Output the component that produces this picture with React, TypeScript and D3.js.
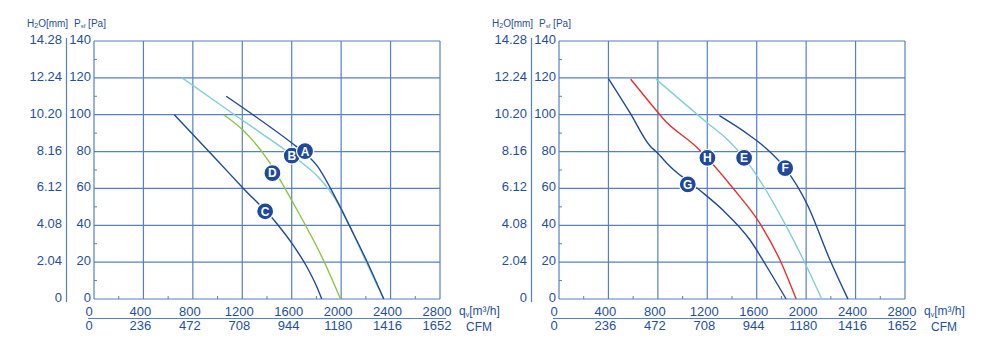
import React from "react";
import * as d3 from "d3";

// ---- data ----
const qTicks = [0, 400, 800, 1200, 1600, 2000, 2400, 2800];
const cfmLabels = ["0", "236", "472", "708", "944", "1180", "1416", "1652"];
const paTicks = [0, 20, 40, 60, 80, 100, 120, 140];
const mmLabels = ["0", "2.04", "4.08", "6.12", "8.16", "10.20", "12.24", "14.28"];

// left chart curves [q m3/h, Pa]
const curveB: [number, number][] = [[710,120.2],[1128,100.4],[1344,90.4],[1695,73.3],[1803,67],[1992,49.9],[2073,39],[2208,19.3],[2345,0]];
const curveD: [number, number][] = [[1050,100],[1209,91.4],[1412,75],[1600,53.5],[1857,21],[1995,0]];
const curveC: [number, number][] = [[650,100],[1000,75],[1209,60],[1479,41],[1614,29],[1722,17.5],[1803,6.6],[1843,0]];
const curveA: [number, number][] = [[1070,110],[1614,84],[1700,79.5],[1803,72.5],[1965,53.5],[2073,39],[2208,20.5],[2345,0]];

// right chart curves
const curveE: [number, number][] = [[785,119.3],[1196,95.8],[1358,86.8],[1498,76.6],[1600,67],[1843,39],[1992,19.3],[2127,0]];
const curveH: [number, number][] = [[580,119.3],[791,102],[845,97.7],[1115,82.3],[1412,59.8],[1627,40.9],[1789,21],[1919,0]];
const curveG: [number, number][] = [[400,119.6],[575,101],[737,83],[791,79.6],[899,71.9],[1142,58.9],[1330,48],[1546,32],[1682,17.5],[1838,0]];
const curveF: [number, number][] = [[1298,99.5],[1546,88.6],[1682,81.4],[1830,71],[2006,51.7],[2194,21],[2338,0]];

const leftLabels: { t: string; q: number; p: number }[] = [
  { t: "B", q: 1601, p: 77.8 },
  { t: "A", q: 1708, p: 80.2 },
  { t: "D", q: 1444, p: 68.3 },
  { t: "C", q: 1385, p: 47.6 },
];
const rightLabels: { t: string; q: number; p: number }[] = [
  { t: "G", q: 1042, p: 62.2 },
  { t: "H", q: 1201, p: 76.6 },
  { t: "E", q: 1498, p: 76.6 },
  { t: "F", q: 1830, p: 71 },
];

const TEXT = "#1f4fa2";
const GRID = "#5580c6";
const DARK = "#1f4a9c";
const CYAN = "#7fcfdc";
const GREEN = "#8cc63f";
const RED = "#e8302c";
const FONT = "'Liberation Sans', Arial, Helvetica, sans-serif";

type Curve = { data: [number, number][]; color: string };

function Chart({ ox, curves, labels }: { ox: number; curves: Curve[]; labels: { t: string; q: number; p: number }[] }) {
  const x = d3.scaleLinear().domain([0, 2800]).range([ox, ox + 346]);
  const y = d3.scaleLinear().domain([0, 140]).range([299, 41]);
  const line = d3
    .line<[number, number]>()
    .x((d) => x(d[0]))
    .y((d) => y(d[1]))
    .curve(d3.curveMonotoneX);
  const minorY = d3.range(10, 140, 20);
  const minorX = d3.range(200, 2800, 400);
  return (
    <g>
      {/* header */}
      <text x={ox - 67} y={27} fontSize={10} fill={TEXT} fontFamily={FONT}>
        H<tspan fontSize={7} dy={1}>2</tspan>
        <tspan dy={-1}>O[mm]</tspan>
      </text>
      <text x={ox - 20} y={27} fontSize={10} fill={TEXT} fontFamily={FONT}>
        P<tspan fontSize={6} dy={1}>sf</tspan>
        <tspan dy={-1}> [Pa]</tspan>
      </text>
      {/* separator */}
      <line x1={ox - 27.5} x2={ox - 27.5} y1={38} y2={302} stroke={GRID} strokeWidth={1.2} />
      {/* grid */}
      {paTicks.map((p) => (
        <line key={"h" + p} x1={x(0)} x2={x(2800)} y1={y(p)} y2={y(p)} stroke={GRID} strokeWidth={1.2} />
      ))}
      {qTicks.map((q) => (
        <line key={"v" + q} x1={x(q)} x2={x(q)} y1={y(0)} y2={y(140)} stroke={GRID} strokeWidth={1.2} />
      ))}
      {minorY.map((p) => (
        <line key={"my" + p} x1={x(0)} x2={x(0) + 3} y1={y(p)} y2={y(p)} stroke={GRID} strokeWidth={1} />
      ))}
      {minorX.map((q) => (
        <line key={"mx" + q} x1={x(q)} x2={x(q)} y1={y(0)} y2={y(0) - 3} stroke={GRID} strokeWidth={1} />
      ))}
      {/* y labels */}
      {paTicks.map((p, i) => (
        <g key={"yl" + p}>
          <text x={ox - 3} y={y(p) + 3} textAnchor="end" fontSize={13} fill={TEXT} fontFamily={FONT}>
            {p}
          </text>
          <text x={ox - 32} y={y(p) + 3} textAnchor="end" fontSize={13} fill={TEXT} fontFamily={FONT}>
            {mmLabels[i]}
          </text>
        </g>
      ))}
      {/* x labels */}
      {qTicks.map((q, i) => (
        <g key={"xl" + q}>
          <text x={x(q) - (i === 0 ? 5 : 3)} y={315.5} textAnchor="middle" fontSize={13} fill={TEXT} fontFamily={FONT}>
            {q}
          </text>
          <text x={x(q) - (i === 0 ? 5 : 3)} y={330} textAnchor="middle" fontSize={13} fill={TEXT} fontFamily={FONT}>
            {cfmLabels[i]}
          </text>
        </g>
      ))}
      <line x1={ox - 6} x2={ox + 352} y1={318.5} y2={318.5} stroke={GRID} strokeWidth={1.2} />
      <text x={ox + 365} y={315} fontSize={12} fill={TEXT} fontFamily={FONT}>
        q<tspan fontSize={7} dy={2}>v</tspan>
        <tspan dy={-2}>[m³/h]</tspan>
      </text>
      <text x={ox + 372} y={331} fontSize={12} fill={TEXT} fontFamily={FONT}>
        CFM
      </text>
      {/* curves */}
      {curves.map((c, i) => (
        <path key={"c" + i} d={line(c.data) || ""} fill="none" stroke={c.color} strokeWidth={1.4} />
      ))}
      {/* labels */}
      {labels.map((l) => (
        <g key={l.t} transform={`translate(${x(l.q)},${y(l.p)})`}>
          <circle r={8.5} fill={DARK} stroke="#ffffff" strokeWidth={1.2} />
          <text y={4.3} textAnchor="middle" fontSize={12} fontWeight="bold" fill="#ffffff" fontFamily={FONT}>
            {l.t}
          </text>
        </g>
      ))}
    </g>
  );
}

export default function App() {
  return (
    <svg width={1000} height={356} style={{ position: "absolute", left: 0, top: 0, background: "#ffffff" }}>
      <rect width={1000} height={356} fill="#ffffff" />
      <Chart
        ox={94}
        curves={[
          { data: curveB, color: CYAN },
          { data: curveD, color: GREEN },
          { data: curveC, color: DARK },
          { data: curveA, color: DARK },
        ]}
        labels={leftLabels}
      />
      <Chart
        ox={559}
        curves={[
          { data: curveE, color: CYAN },
          { data: curveH, color: RED },
          { data: curveG, color: DARK },
          { data: curveF, color: DARK },
        ]}
        labels={rightLabels}
      />
    </svg>
  );
}
